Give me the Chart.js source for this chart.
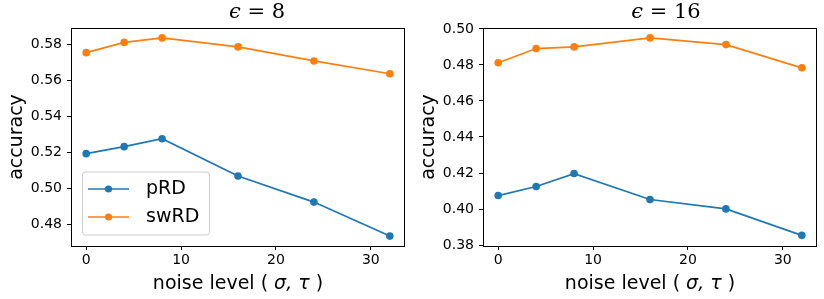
<!DOCTYPE html>
<html>
<head>
<meta charset="utf-8">
<script src="https://cdn.jsdelivr.net/npm/chart.js@4"></script>
<style>
  html, body { margin: 0; padding: 0; background: #fff; }
  .panel { position: absolute; top: 0; width: 412px; height: 299px; }
</style>
</head>
<body>
<div class="panel" style="left:0"><canvas id="chartEps8" width="412" height="299"></canvas></div>
<div class="panel" style="left:412px"><canvas id="chartEps16" width="412" height="299"></canvas></div>
<script>
// noise level (sigma, tau)
const noiseLevels = [0, 4, 8, 16, 24, 32];
const xTicks = [0, 10, 20, 30];
const seriesNames = ["pRD", "swRD"];

// epsilon = 8
const prdEps8 = [0.5193, 0.5232, 0.5276, 0.5069, 0.4924, 0.4735];
const swrdEps8 = [0.5754, 0.5811, 0.5836, 0.5786, 0.5708, 0.5637];
const yTicksEps8 = [0.48, 0.50, 0.52, 0.54, 0.56, 0.58];

// epsilon = 16
const prdEps16 = [0.4075, 0.4125, 0.4197, 0.4053, 0.4001, 0.3854];
const swrdEps16 = [0.4812, 0.4891, 0.4900, 0.4950, 0.4913, 0.4784];
const yTicksEps16 = [0.38, 0.40, 0.42, 0.44, 0.46, 0.48, 0.50];

const colors = ["#1f77b4", "#ff7f0e"];
const sans = "'DejaVu Sans', sans-serif";
const serif = "'DejaVu Serif', serif";

// titre / label x avec lettres grecques en italique
function drawParts(ctx, parts, cx, baseline) {
    let total = 0;
    parts.forEach((p) => {
        ctx.font = p.font;
        p.w = ctx.measureText(p.t).width;
        total += p.w;
    });
    let x = cx - total / 2;
    ctx.textBaseline = "alphabetic";
    ctx.textAlign = "left";
    ctx.fillStyle = "#000";
    parts.forEach((p) => {
        ctx.font = p.font;
        ctx.fillText(p.t, x, baseline);
        x += p.w;
    });
}

const mathText = {
    id: "mathText",
    afterDraw(chart, args, opts) {
        const ctx = chart.ctx;
        const a = chart.chartArea;
        ctx.save();
        // cadre complet
        ctx.strokeStyle = "#000";
        ctx.lineWidth = 1;
        ctx.strokeRect(a.left + 0.5, a.top + 0.5, a.right - a.left - 1, a.bottom - a.top);

        drawParts(ctx, opts.title, opts.titleX, 18);
        drawParts(ctx, [
            { t: "noise level ( ", font: "19px " + sans },
            { t: "σ, τ", font: "italic 19px " + sans },
            { t: " )", font: "19px " + sans },
        ], (a.left + a.right) / 2, 289);

        if (opts.legend) {
            // légende façon matplotlib
            const lx = 82, ly = 171.5, lw = 127, lh = 63;
            ctx.fillStyle = "rgba(255,255,255,0.8)";
            ctx.strokeStyle = "#cccccc";
            ctx.lineWidth = 1;
            ctx.beginPath();
            ctx.roundRect(lx + 0.5, ly + 0.5, lw, lh, 3);
            ctx.fill();
            ctx.stroke();
            seriesNames.forEach((name, i) => {
                const y = 189 + i * 28;
                ctx.strokeStyle = colors[i];
                ctx.lineWidth = 1.7;
                ctx.beginPath();
                ctx.moveTo(88, y);
                ctx.lineTo(129, y);
                ctx.stroke();
                ctx.fillStyle = colors[i];
                ctx.beginPath();
                ctx.arc(108.5, y, 3.6, 0, Math.PI * 2);
                ctx.fill();
                ctx.fillStyle = "#000";
                ctx.font = "19px " + sans;
                ctx.textBaseline = "middle";
                ctx.textAlign = "left";
                ctx.fillText(name, 146, y);
            });
        }
        ctx.restore();
    },
};

function makePanel(id, prd, swrd, yTicks, yMin, yMax, title, titleX, legend) {
    const ctx = document.getElementById(id).getContext("2d");
    const values = [prd, swrd];
    new Chart(ctx, {
        type: "line",
        data: {
            datasets: seriesNames.map((name, i) => ({
                label: name,
                data: noiseLevels.map((x, j) => ({ x: x, y: values[i][j] })),
                borderColor: colors[i],
                backgroundColor: colors[i],
                borderWidth: 1.7,
                pointRadius: 3.8,
                pointBorderWidth: 0,
                tension: 0,
            })),
        },
        options: {
            responsive: false,
            animation: false,
            layout: { padding: { top: 28, right: 7, left: 0, bottom: 0 } },
            scales: {
                x: {
                    type: "linear",
                    min: -1.6,
                    max: 33.6,
                    afterFit: (s) => { s.height = 53; },
                    afterBuildTicks: (s) => { s.ticks = xTicks.map((v) => ({ value: v })); },
                    grid: { drawOnChartArea: false, drawTicks: true, tickLength: 4, color: "#000" },
                    border: { display: false },
                    ticks: { color: "#000", padding: 2, maxRotation: 0, font: { family: sans, size: 14 } },
                },
                y: {
                    min: yMin,
                    max: yMax,
                    afterFit: (s) => { s.width = 71; },
                    afterBuildTicks: (s) => { s.ticks = yTicks.map((v) => ({ value: v })); },
                    grid: { drawOnChartArea: false, drawTicks: true, tickLength: 4, color: "#000" },
                    border: { display: false },
                    ticks: {
                        color: "#000",
                        padding: 5,
                        font: { family: sans, size: 14 },
                        callback: (v) => Number(v).toFixed(2),
                    },
                    title: {
                        display: true,
                        text: "accuracy",
                        color: "#000",
                        font: { family: sans, size: 19 },
                        padding: { top: 6, bottom: 0 },
                    },
                },
            },
            plugins: {
                legend: { display: false },
                tooltip: { enabled: false },
                mathText: { title: title, titleX: titleX, legend: legend },
            },
        },
        plugins: [mathText],
    });
}

makePanel("chartEps8", prdEps8, swrdEps8, yTicksEps8, 0.468, 0.5891,
    [{ t: "ϵ", font: "italic 21px " + serif }, { t: " = 8", font: "21px " + serif }], 257, true);
makePanel("chartEps16", prdEps16, swrdEps16, yTicksEps16, 0.3795, 0.5005,
    [{ t: "ϵ", font: "italic 21px " + serif }, { t: " = 16", font: "21px " + serif }], 254, false);
</script>
</body>
</html>
